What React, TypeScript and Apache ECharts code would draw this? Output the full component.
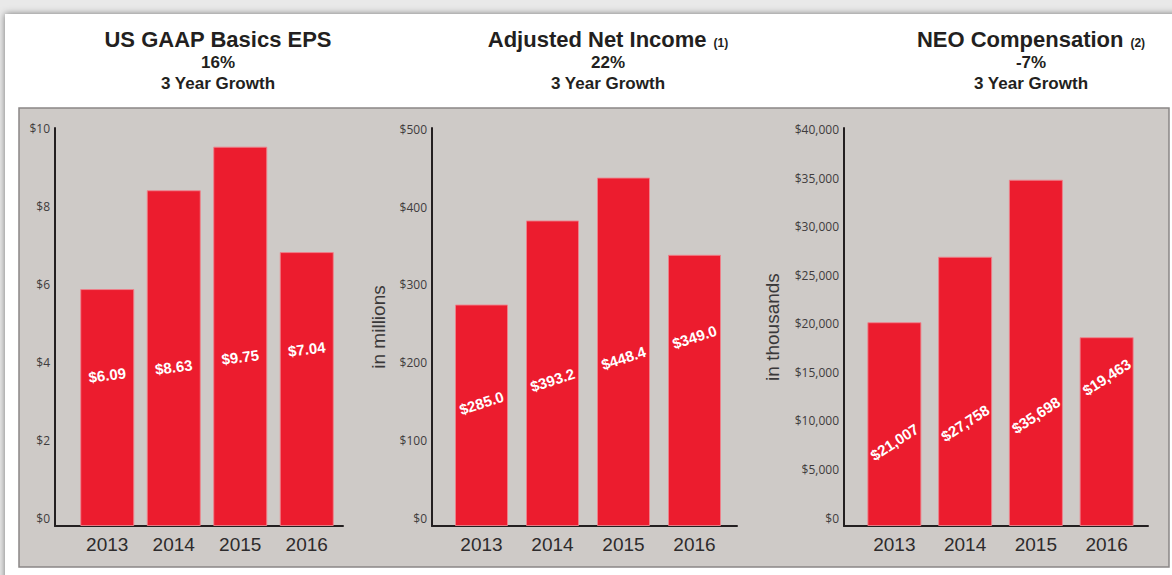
import React, { useEffect, useRef } from "react";
import * as echarts from "echarts";

// ---------- data ----------
const years = ["2013", "2014", "2015", "2016"];
const epsValues = [6.09, 8.63, 9.75, 7.04];
const netIncomeValues = [285.0, 393.2, 448.4, 349.0];
const neoValues = [21007, 27758, 35698, 19463];
const epsLabels = ["$6.09", "$8.63", "$9.75", "$7.04"];
const netIncomeLabels = ["$285.0", "$393.2", "$448.4", "$349.0"];
const neoLabels = ["$21,007", "$27,758", "$35,698", "$19,463"];
const titles = ["US GAAP Basics EPS", "Adjusted Net Income", "NEO Compensation"];
const notes = ["", "(1)", "(2)"];
const growth = ["16%", "22%", "-7%"];
const growthCaption = "3 Year Growth";
const axisNames = ["", "in millions", "in thousands"];

// ---------- layout / style ----------
const FONT = "'Liberation Sans', Arial, Helvetica, sans-serif";
const TICK_FONT = "'Open Sans', 'Noto Sans', sans-serif";
const RED = "#ec1c2e";
const INK = "#231f20";

const panels = [
  {
    values: epsValues, labels: epsLabels,
    frameLeft: 55, frameWidth: 288, barLeft: 74, barAreaWidth: 266,
    max: 10.23, interval: 2, barW: 54, rotate: 7,
    lifts: [151, 159, 169, 177], titleX: 218, nameGap: 40,
    fmt: (v: number) => "$" + v,
  },
  {
    values: netIncomeValues, labels: netIncomeLabels,
    frameLeft: 432, frameWidth: 305, barLeft: 446, barAreaWidth: 284,
    max: 512.2, interval: 100, barW: 53, rotate: 18,
    lifts: [123, 146, 168, 189], titleX: 608, nameGap: 44,
    fmt: (v: number) => "$" + v,
  },
  {
    values: neoValues, labels: neoLabels,
    frameLeft: 844, frameWidth: 304, barLeft: 859, barAreaWidth: 283,
    max: 41030, interval: 5000, barW: 54, rotate: 33,
    lifts: [84, 103, 111, 149], titleX: 1031, nameGap: 62,
    fmt: (v: number) => "$" + v.toLocaleString("en-US"),
  },
];

const TOP = 128;
const HEIGHT = 398;

function buildOption() {
  const grid: any[] = [];
  const xAxis: any[] = [];
  const yAxis: any[] = [];
  const series: any[] = [];
  const graphic: any[] = [
    { type: "rect", z: -100, shape: { x: 0, y: 0, width: 1172, height: 575 }, style: { fill: "#e9e9e9" } },
    {
      type: "rect", z: -99, shape: { x: 5, y: 14, width: 1200, height: 600 },
      style: { fill: "#ffffff", shadowBlur: 7, shadowColor: "rgba(0,0,0,0.5)" },
    },
    {
      type: "rect", z: -98, shape: { x: 19, y: 108, width: 1150, height: 459 },
      style: { fill: "#cecac7", stroke: "#8a8786", lineWidth: 1.5 },
    },
  ];

  panels.forEach((p, k) => {
    const fg = 2 * k;
    const bg = 2 * k + 1;
    grid.push({ left: p.frameLeft, top: TOP, width: p.frameWidth, height: HEIGHT });
    grid.push({ left: p.barLeft, top: TOP, width: p.barAreaWidth, height: HEIGHT });

    // frame axes (axis lines, tick labels, axis name)
    xAxis.push({
      type: "value", gridIndex: fg, min: 0, max: 1,
      axisLine: { show: true, lineStyle: { color: INK, width: 2 } },
      axisTick: { show: false }, axisLabel: { show: false }, splitLine: { show: false },
    });
    yAxis.push({
      type: "value", gridIndex: fg, min: 0, max: p.max, interval: p.interval,
      axisLine: { show: true, lineStyle: { color: INK, width: 2 } },
      axisTick: { show: false }, splitLine: { show: false },
      axisLabel: {
        show: true, margin: 5, color: "#403c3d", fontSize: 12, fontFamily: TICK_FONT,
        verticalAlign: "bottom", lineHeight: 16,
        showMaxLabel: false,
        formatter: (v: number) => (Math.abs(v / p.interval - Math.round(v / p.interval)) < 1e-6 ? p.fmt(v) : ""),
      },
      name: axisNames[k], nameLocation: "middle", nameGap: p.nameGap,
      nameTextStyle: { fontSize: 19, color: "#3a3839", fontFamily: FONT },
    });

    // bar axes
    xAxis.push({
      type: "category", gridIndex: bg, data: years,
      axisLine: { show: false }, axisTick: { show: false }, splitLine: { show: false },
      axisLabel: { color: "#2d2b2c", fontSize: 19, fontFamily: FONT, margin: 9 },
    });
    yAxis.push({ type: "value", gridIndex: bg, min: 0, max: p.max, show: false, splitLine: { show: false } });

    series.push({
      type: "bar", xAxisIndex: bg, yAxisIndex: bg, barWidth: p.barW,
      itemStyle: { color: RED, borderColor: "rgba(240,130,140,0.9)", borderWidth: 1 },
      data: p.values.map((v, i) => ({ value: v, label: { distance: p.lifts[i] } })),
      label: {
        show: true, position: "insideBottom", align: "center", verticalAlign: "middle",
        rotate: p.rotate, color: "#ffffff", fontWeight: "bold", fontSize: 15, fontFamily: FONT,
        formatter: (params: any) => p.labels[params.dataIndex],
      },
    });

    // titles
    graphic.push({
      type: "text", z: 10, x: p.titleX, y: 39,
      style: {
        text: `{m|${titles[k]}}` + (notes[k] ? `{s|${notes[k]}}` : ""),
        align: "center", verticalAlign: "middle",
        rich: {
          m: { fontSize: 22, fontWeight: "bold", fontFamily: FONT, fill: INK, lineHeight: 24 },
          s: { fontSize: 12, fontWeight: "bold", fontFamily: FONT, fill: INK, lineHeight: 24, padding: [7, 0, 0, 7] },
        },
      },
    });
    graphic.push({
      type: "text", z: 10, x: p.titleX, y: 62,
      style: { text: growth[k], align: "center", verticalAlign: "middle", fontSize: 17, fontWeight: "bold", fontFamily: FONT, fill: INK },
    });
    graphic.push({
      type: "text", z: 10, x: p.titleX, y: 83,
      style: { text: growthCaption, align: "center", verticalAlign: "middle", fontSize: 17, fontWeight: "bold", fontFamily: FONT, fill: INK },
    });
  });

  return { animation: false, grid, xAxis, yAxis, series, graphic };
}

export default function App() {
  const ref = useRef<HTMLDivElement>(null);
  useEffect(() => {
    document.body.style.margin = "0";
    if (!ref.current) return;
    const chart = echarts.init(ref.current, null, { renderer: "svg" });
    chart.setOption(buildOption() as any);
    return () => chart.dispose();
  }, []);
  return <div ref={ref} style={{ width: 1172, height: 575 }} />;
}
